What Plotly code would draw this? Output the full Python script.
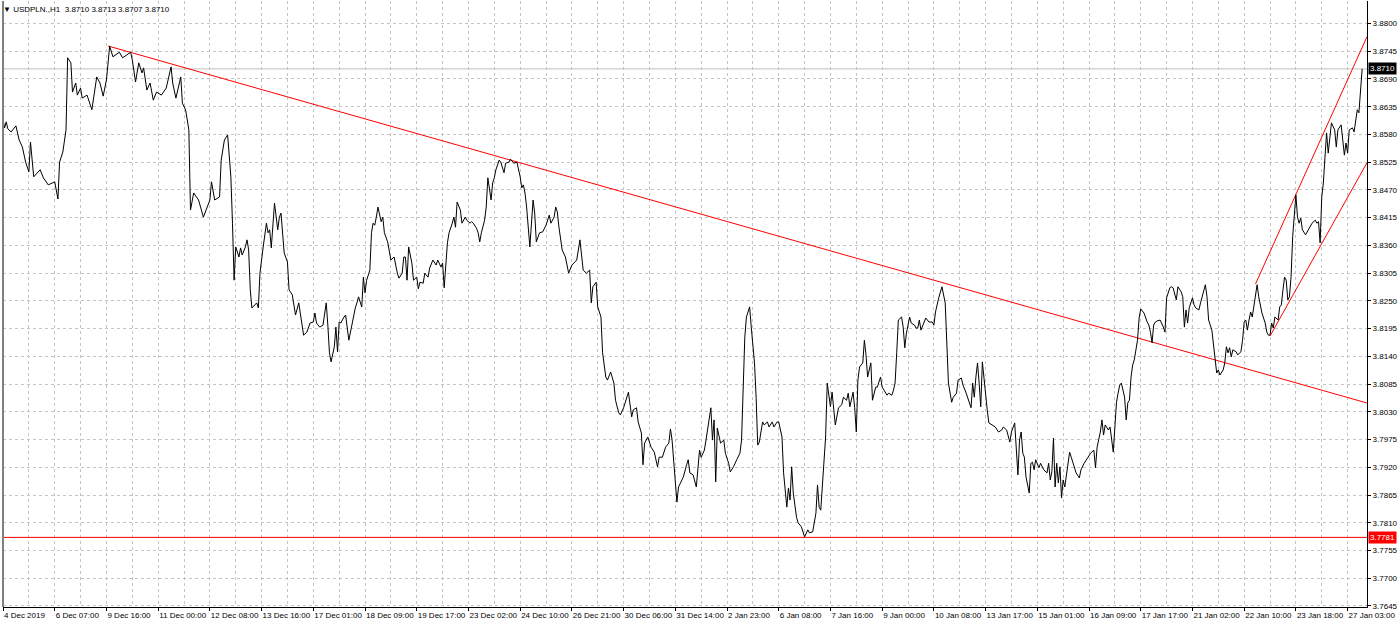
import plotly.graph_objects as go

# ---------------- data ----------------
bar_index = [0,1,2,3,5,8,10,12,14,16,17,19,23,25,28,32,34,35,37,39,40,42,43,45,46,48,49,52,55,58,60,62,64,65,66,68,70,72,74,78,79,80,82,84,86,87,89,91,93,95,98,101,104,105,107,110,111,113,115,116,118,121,124,128,129,131,134,135,137,139,141,142,143,144,146,147,148,150,151,152,153,154,157,158,159,161,163,164,165,166,167,168,170,171,172,173,174,176,177,179,181,183,185,186,188,190,192,193,194,196,198,200,201,202,203,205,206,207,208,209,211,212,214,216,218,219,220,222,223,224,225,227,228,229,230,231,232,234,235,236,238,240,242,244,245,247,248,249,250,251,253,254,256,257,258,260,261,263,264,266,268,269,271,272,273,275,276,278,279,280,281,283,284,286,287,289,290,291,293,294,295,296,298,299,300,302,303,304,305,307,308,310,311,313,314,316,318,320,321,322,323,324,325,326,328,329,330,332,334,336,338,339,341,342,343,344,346,348,350,352,355,356,357,359,361,363,364,365,367,368,370,371,373,374,376,378,379,381,382,384,385,386,387,389,390,392,393,395,396,397,399,401,403,405,406,408,410,412,413,414,416,417,418,421,423,424,425,427,429,431,432,434,435,437,438,439,440,441,442,444,446,447,449,450,452,454,456,457,458,459,460,462,463,464,465,466,467,468,470,471,473,474,476,477,479,480,482,483,484,485,486,487,488,489,491,492,494,495,496,498,499,501,502,503,504,505,506,507,508,509,510,511,512,513,514,515,517,519,520,522,523,524,526,527,528,529,530,532,533,534,535,537,538,540,541,543,544,545,547,548,550,551,552,553,554,556,557,558,559,561,562,564,565,566,567,568,570,571,573,575,576,577,579,581,583,584,585,587,588,590,591,593,594,596,597,599,600,601,602,603,604,605,606,607,608,609,610,612,614,616,618,619,621,623,624,626,627,628,629,630,631,632,633,635,636,637,638,639,641,642,644,646,647,648,649,650,651,652,653,654,655,656,657,658,660,661,663,664,666,667,669,671,673,675,676,677,679,680,681,682,684,685,687,688,689,690,691,692,694,695,696,697,698,699,700,702,703,704,706,708,709,710,711,712,713,714,716,718,719,720,722,723,724,726,727,729,730,731,732,733,734,736,737,738,740,741,742,744,745,746,748,749,750,751,752,753,755,756,757,758,759,760,761,763,764,766,767,768,769,770,771,772,773,775,776,777,778,779,781,782,783,784,785,786,787,789,790,791,792,793,794,795,796,797,798,799,800,801,802,803,804,806,807,809,810,812,813,814,815,816,817,818,819,820,821,822,824,825,826,828,829,830,831,832,833,835,836,837,838,839,840,841]
close = [3.8609,3.8593,3.8605,3.8591,3.8585,3.8597,3.8569,3.8555,3.8525,3.8506,3.8565,3.8496,3.8510,3.8494,3.8480,3.8486,3.8452,3.8525,3.8545,3.8589,3.8732,3.8722,3.8664,3.8682,3.8658,3.8672,3.8652,3.8658,3.8629,3.8694,3.8682,3.8656,3.8688,3.8722,3.8755,3.8734,3.8738,3.8743,3.8732,3.8742,3.8743,3.8728,3.8684,3.8722,3.8702,3.8712,3.8668,3.8682,3.8648,3.8664,3.8658,3.8672,3.8714,3.8682,3.8652,3.8694,3.8642,3.8629,3.8589,3.8430,3.8464,3.8450,3.8416,3.8450,3.8486,3.8450,3.8456,3.8529,3.8569,3.8579,3.8496,3.8404,3.8291,3.8357,3.8337,3.8355,3.8341,3.8357,3.8371,3.8351,3.8272,3.8236,3.8246,3.8236,3.8305,3.8357,3.8404,3.8385,3.8391,3.8355,3.8404,3.8444,3.8391,3.8416,3.8424,3.8377,3.8345,3.8327,3.8272,3.8262,3.8222,3.8246,3.8206,3.8182,3.8188,3.8206,3.8208,3.8226,3.8206,3.8198,3.8202,3.8246,3.8202,3.8147,3.8129,3.8159,3.8198,3.8149,3.8208,3.8206,3.8218,3.8222,3.8172,3.8206,3.8236,3.8246,3.8258,3.8238,3.8297,3.8266,3.8291,3.8311,3.8385,3.8404,3.8400,3.8416,3.8436,3.8407,3.8416,3.8385,3.8367,3.8331,3.8337,3.8305,3.8295,3.8305,3.8337,3.8337,3.8291,3.8357,3.8325,3.8291,3.8297,3.8274,3.8287,3.8285,3.8305,3.8297,3.8315,3.8331,3.8321,3.8331,3.8317,3.8325,3.8276,3.8365,3.8385,3.8404,3.8416,3.8396,3.8446,3.8430,3.8404,3.8416,3.8410,3.8404,3.8407,3.8404,3.8394,3.8385,3.8367,3.8385,3.8410,3.8436,3.8494,3.8450,3.8484,3.8494,3.8510,3.8529,3.8525,3.8504,3.8523,3.8525,3.8531,3.8523,3.8525,3.8496,3.8474,3.8480,3.8464,3.8436,3.8396,3.8357,3.8450,3.8424,3.8367,3.8385,3.8387,3.8400,3.8420,3.8404,3.8416,3.8436,3.8426,3.8396,3.8351,3.8337,3.8305,3.8321,3.8331,3.8357,3.8371,3.8311,3.8305,3.8311,3.8246,3.8278,3.8287,3.8238,3.8218,3.8147,3.8099,3.8093,3.8109,3.8087,3.8053,3.8028,3.8024,3.8038,3.8048,3.8059,3.8069,3.8020,3.8034,3.8038,3.8010,3.7988,3.7925,3.7968,3.7980,3.7960,3.7950,3.7921,3.7940,3.7940,3.7960,3.7968,3.7996,3.7974,3.7895,3.7851,3.7881,3.7901,3.7925,3.7935,3.7909,3.7905,3.7881,3.7954,3.7940,3.7954,3.7974,3.8014,3.8038,3.7974,3.8014,3.7891,3.7998,3.7968,3.7974,3.7948,3.7928,3.7911,3.7921,3.7935,3.7948,3.7974,3.8093,3.8178,3.8218,3.8238,3.8198,3.8159,3.8127,3.8059,3.7964,3.7970,3.8010,3.8004,3.8010,3.8000,3.8010,3.8000,3.8010,3.8010,3.7980,3.7909,3.7881,3.7841,3.7879,3.7855,3.7921,3.7869,3.7821,3.7810,3.7802,3.7792,3.7782,3.7796,3.7790,3.7792,3.7810,3.7829,3.7885,3.7841,3.7835,3.7889,3.7921,3.7980,3.8087,3.8067,3.8040,3.8069,3.8040,3.8004,3.8038,3.8044,3.8059,3.8053,3.8067,3.8040,3.8069,3.8038,3.7990,3.8093,3.8119,3.8127,3.8172,3.8143,3.8099,3.8127,3.8053,3.8079,3.8079,3.8099,3.8079,3.8073,3.8063,3.8067,3.8063,3.8073,3.8087,3.8147,3.8212,3.8218,3.8198,3.8157,3.8186,3.8218,3.8206,3.8202,3.8196,3.8196,3.8212,3.8192,3.8208,3.8216,3.8208,3.8208,3.8202,3.8228,3.8256,3.8278,3.8246,3.8172,3.8087,3.8049,3.8059,3.8067,3.8093,3.8097,3.8083,3.8067,3.8057,3.8038,3.8087,3.8059,3.8099,3.8127,3.8087,3.8040,3.8129,3.8093,3.8067,3.8034,3.8008,3.8004,3.8000,3.7990,3.7994,3.8000,3.7994,3.7970,3.7990,3.8008,3.7948,3.7905,3.7974,3.7990,3.7948,3.7940,3.7901,3.7869,3.7928,3.7930,3.7915,3.7935,3.7919,3.7928,3.7915,3.7909,3.7928,3.7895,3.7911,3.7978,3.7881,3.7928,3.7889,3.7921,3.7859,3.7895,3.7881,3.7901,3.7950,3.7940,3.7921,3.7909,3.7899,3.7915,3.7928,3.7938,3.7948,3.7954,3.7919,3.7960,3.7990,3.8014,3.7984,3.8004,3.7994,3.8000,3.7950,3.8000,3.8049,3.8067,3.8083,3.8087,3.8059,3.8014,3.8048,3.8053,3.8099,3.8123,3.8133,3.8172,3.8216,3.8234,3.8226,3.8208,3.8202,3.8188,3.8167,3.8202,3.8208,3.8210,3.8212,3.8198,3.8188,3.8256,3.8276,3.8278,3.8276,3.8252,3.8278,3.8268,3.8258,3.8198,3.8232,3.8206,3.8236,3.8256,3.8242,3.8236,3.8232,3.8246,3.8258,3.8282,3.8258,3.8212,3.8192,3.8159,3.8133,3.8107,3.8113,3.8103,3.8113,3.8127,3.8159,3.8147,3.8157,3.8139,3.8153,3.8149,3.8143,3.8149,3.8172,3.8208,3.8212,3.8192,3.8212,3.8228,3.8218,3.8258,3.8282,3.8258,3.8242,3.8226,3.8206,3.8188,3.8182,3.8182,3.8206,3.8196,3.8218,3.8212,3.8238,3.8242,3.8272,3.8297,3.8291,3.8252,3.8258,3.8297,3.8377,3.8416,3.8460,3.8416,3.8404,3.8414,3.8391,3.8381,3.8387,3.8396,3.8404,3.8410,3.8404,3.8407,3.8365,3.8456,3.8484,3.8535,3.8583,3.8543,3.8569,3.8603,3.8589,3.8555,3.8589,3.8599,3.8569,3.8539,3.8563,3.8543,3.8589,3.8593,3.8585,3.8603,3.8629,3.8623,3.8662,3.8710]

tick_bars = [0,32,64,96,128,160,192,224,256,288,320,352,384,416,448,480,512,544,576,608,640,672,704,736,768,800,832]
tick_labels = ["4 Dec 2019","6 Dec 07:00","9 Dec 16:00","11 Dec 00:00","12 Dec 08:00","13 Dec 16:00",
               "17 Dec 01:00","18 Dec 09:00","19 Dec 17:00","23 Dec 02:00","24 Dec 10:00","26 Dec 21:00",
               "30 Dec 06:00","31 Dec 14:00","2 Jan 23:00","6 Jan 08:00","7 Jan 16:00","9 Jan 00:00",
               "10 Jan 08:00","13 Jan 17:00","15 Jan 01:00","16 Jan 09:00","17 Jan 17:00","21 Jan 02:00",
               "22 Jan 10:00","23 Jan 18:00","27 Jan 03:00"]
minor_bars = [16,48,80,112,144,176,208,240,272,304,336,368,400,432,464,496,528,560,592,624,656,688,720,752,784,816]

price_ticks = [3.7645,3.7700,3.7755,3.7810,3.7865,3.7920,3.7975,3.8030,3.8085,3.8140,3.8195,
               3.8250,3.8305,3.8360,3.8415,3.8470,3.8525,3.8580,3.8635,3.8690,3.8745,3.8800]

current_price = 3.8710
support_level = 3.7781
down_trend_x = [65, 844]
down_trend_y = [3.87554, 3.80475]
chan_upper_x = [775, 844]
chan_upper_y = [3.82834, 3.87738]
chan_lower_x = [784, 844]
chan_lower_y = [3.81803, 3.8524]

title_text = "\u25bc USDPLN.,H1  3.8710 3.8713 3.8707 3.8710"

# ---------------- figure ----------------
FONT = "Liberation Sans, Arial, sans-serif"
X_RANGE = [0, 844]
fig = go.Figure()

fig.add_trace(go.Scatter(x=X_RANGE, y=[current_price, current_price], mode="lines",
                         line=dict(color="#c0c0c0", width=1), hoverinfo="skip"))
fig.add_trace(go.Scatter(x=down_trend_x, y=down_trend_y, mode="lines",
                         line=dict(color="#ff0000", width=1), hoverinfo="skip"))
fig.add_trace(go.Scatter(x=chan_upper_x, y=chan_upper_y, mode="lines",
                         line=dict(color="#ff0000", width=1), hoverinfo="skip"))
fig.add_trace(go.Scatter(x=chan_lower_x, y=chan_lower_y, mode="lines",
                         line=dict(color="#ff0000", width=1), hoverinfo="skip"))
fig.add_trace(go.Scatter(x=bar_index, y=close, mode="lines",
                         line=dict(color="#000000", width=1)))
fig.add_trace(go.Scatter(x=X_RANGE, y=[support_level, support_level], mode="lines",
                         line=dict(color="#ff0000", width=1), hoverinfo="skip"))

grid_dash = "3px,3px"
fig.update_layout(
    width=1400, height=626,
    margin=dict(l=3, r=33, t=1, b=19, autoexpand=False),
    paper_bgcolor="white", plot_bgcolor="white",
    showlegend=False,
    font=dict(family=FONT, size=8, color="#000000"),
    xaxis=dict(
        range=X_RANGE, automargin=False, tickangle=0,
        tickmode="array", tickvals=tick_bars, ticktext=tick_labels,
        ticks="outside", ticklen=3, tickcolor="#000000",
        ticklabelposition="outside right", ticklabeloverflow="allow",
        showgrid=True, gridcolor="#c4c4c4", griddash=grid_dash, gridwidth=1,
        minor=dict(tickmode="array", tickvals=minor_bars, showgrid=True,
                   gridcolor="#c4c4c4", griddash=grid_dash, ticks=""),
        showline=True, linecolor="#000000", linewidth=1, mirror=False,
        zeroline=False, fixedrange=True,
        tickfont=dict(family=FONT, size=8, color="#000000"),
    ),
    yaxis=dict(
        side="right", automargin=False,
        range=[3.7643, 3.88446],
        tickmode="array", tickvals=price_ticks,
        ticktext=["%.4f" % v for v in price_ticks],
        ticks="outside", ticklen=3, tickcolor="#000000",
        ticklabeloverflow="allow",
        showgrid=True, gridcolor="#c4c4c4", griddash=grid_dash, gridwidth=1,
        showline=True, linecolor="#000000", linewidth=1,
        zeroline=False, fixedrange=True,
        tickfont=dict(family=FONT, size=8, color="#000000"),
    ),
)

fig.add_shape(type="line", xref="paper", yref="paper", x0=0, x1=0, y0=0, y1=1,
              line=dict(color="#808080", width=2))

fig.add_annotation(xref="paper", yref="paper", x=0, y=1, xanchor="left", yanchor="top",
                   text=title_text, showarrow=False, xshift=-2, yshift=-2,
                   font=dict(family=FONT, size=8, color="#000000"))

fig.add_annotation(xref="paper", yref="y", x=1, y=current_price, xanchor="left", yanchor="middle",
                   text="%.4f" % current_price, showarrow=False, bgcolor="#000000",
                   font=dict(family=FONT, size=8, color="#ffffff"), borderpad=1, xshift=1)
fig.add_annotation(xref="paper", yref="y", x=1, y=support_level, xanchor="left", yanchor="middle",
                   text="%.4f" % support_level, showarrow=False, bgcolor="#ff0000",
                   font=dict(family=FONT, size=8, color="#ffffff"), borderpad=1, xshift=1)

fig.write_html("out.html", config={"displayModeBar": False},
               post_script="document.body.style.margin='0px';document.body.style.overflow='hidden';")
